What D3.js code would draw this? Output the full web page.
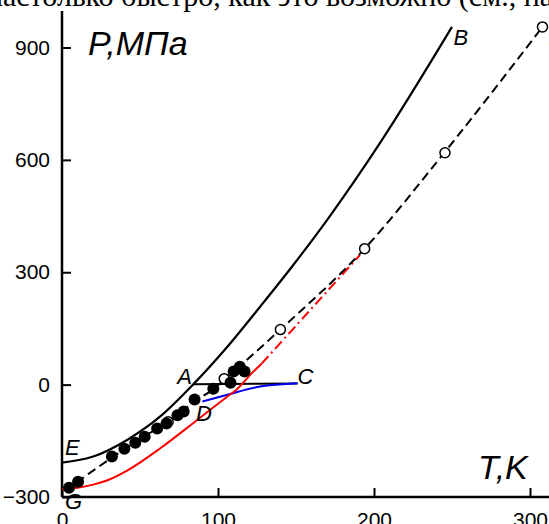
<!DOCTYPE html>
<html><head><meta charset="utf-8">
<script src="https://cdn.jsdelivr.net/npm/d3@7"></script>
<style>body{margin:0;background:#fff}svg{display:block}</style>
</head><body>
<svg id="c" width="549" height="524"></svg>
<script>
const xTicks=[0,100,200,300];
const yTicks=[-300,0,300,600,900];
// curve E–A–B (solid black)
const curveEB=[[0,-208],[20,-192],[42,-147],[63,-85],[84,0],[106,101],[127,208],[148,318],[170,440],[204,646],[250,955]];
// A–C horizontal
const lineAC=[[84,1],[151,3]];
// D–C blue
const curveDC=[[90,-45],[106,-27],[127,-5],[151,4]];
// red solid and dash-dot
const redSolid=[[0,-278],[10,-275],[20,-267],[30,-254],[42,-229],[63,-170],[84,-103],[95,-67],[106,-32],[112,-13],[122,32],[128,56]];
const redDash=[[128,56],[191,346]];
// dashed black G–M
const dashed=[[2,-283],[10,-259],[32,-195],[52,-140],[67,-102],[85,-45],[97,-12],[104,13],[140,147],[194,363],[245,619],[308,955]];
// filled dots
const dotsT=[4.5,10.3,32,40,47,53,61,67,74,78,85,97,108,110,114,117];
const dotsP=[-275,-259,-192,-171,-155,-139,-117,-104,-82,-72,-40,-11,5,35,48,35];
// open circles
const openT=[68,104,140,194,245.5,308];
const openP=[-99,16,147,363,619,955];
const labels=[["E",0,-188],["G",0,-331],["A",72,3],["C",149,3],["D",84,-98],["B",249,906],["M",310,906]];

const svg=d3.select("#c");
const x=d3.scaleLinear().domain([0,300]).range([62,530]);
const y=d3.scaleLinear().domain([-300,900]).range([497,47.5]);
const line=d3.line().x(d=>x(d[0])).y(d=>y(d[1]));
const smooth=d3.line().x(d=>x(d[0])).y(d=>y(d[1])).curve(d3.curveMonotoneX);

svg.append("text").attr("x",553).attr("y",5.5).attr("text-anchor","end")
  .attr("font-family","Liberation Serif").attr("font-size",30)
  .text("настолько быстро, как это возможно (см., на");

// axes
const xAxis=d3.axisBottom(x).tickValues(xTicks).tickSize(-9).tickPadding(15).tickFormat(d3.format("d"));
const gx=svg.append("g").attr("transform",`translate(0,${y(-300)})`).call(xAxis);
gx.select(".domain").attr("d",`M${x(0)},0H560`);
const yAxis=d3.axisLeft(y).tickValues(yTicks).tickSize(-9).tickPadding(12).tickFormat(d3.format("d"));
const gy=svg.append("g").attr("transform",`translate(${x(0)},0)`).call(yAxis);
gy.select(".domain").attr("d",`M0,11V${y(-300)}`);
svg.selectAll(".domain").attr("stroke","#000").attr("stroke-width",2.5);
svg.selectAll(".tick line").attr("stroke","#000").attr("stroke-width",2);
svg.selectAll(".tick text").attr("font-family","Liberation Sans").attr("font-size",21).attr("fill","#000");

// curves
svg.append("path").attr("d",smooth(curveEB)).attr("fill","none").attr("stroke","#000").attr("stroke-width",2.2);
svg.append("path").attr("d",line(lineAC)).attr("fill","none").attr("stroke","#000").attr("stroke-width",2);
svg.append("path").attr("d",smooth(curveDC)).attr("fill","none").attr("stroke","#0000ee").attr("stroke-width",2);
svg.append("path").attr("d",smooth(redSolid)).attr("fill","none").attr("stroke","#ff0000").attr("stroke-width",2);
svg.append("path").attr("d",line(redDash)).attr("fill","none").attr("stroke","#ff0000").attr("stroke-width",2).attr("stroke-dasharray","10,4,2,4");
svg.append("path").attr("d",smooth(dashed)).attr("fill","none").attr("stroke","#000").attr("stroke-width",2).attr("stroke-dasharray","9,5");

svg.append("g").selectAll("circle").data(openT.map((t,i)=>[t,openP[i]])).join("circle")
  .attr("cx",d=>x(d[0])).attr("cy",d=>y(d[1])).attr("r",5).attr("fill","#fff").attr("stroke","#000").attr("stroke-width",1.5);
svg.append("g").selectAll("circle").data(dotsT.map((t,i)=>[t,dotsP[i]])).join("circle")
  .attr("cx",d=>x(d[0])).attr("cy",d=>y(d[1])).attr("r",6).attr("fill","#000");

svg.append("g").selectAll("text").data(labels).join("text")
  .attr("x",d=>x(d[1])+3).attr("y",d=>y(d[2])).text(d=>d[0])
  .attr("font-family","Liberation Sans").attr("font-style","italic").attr("font-size",22);

svg.append("text").attr("x",88).attr("y",55).attr("font-family","Liberation Sans").attr("font-style","italic").attr("font-size",34).text("P,МПа");
svg.append("text").attr("x",478).attr("y",479).attr("font-family","Liberation Sans").attr("font-style","italic").attr("font-size",34).text("T,K");
</script>
</body></html>
